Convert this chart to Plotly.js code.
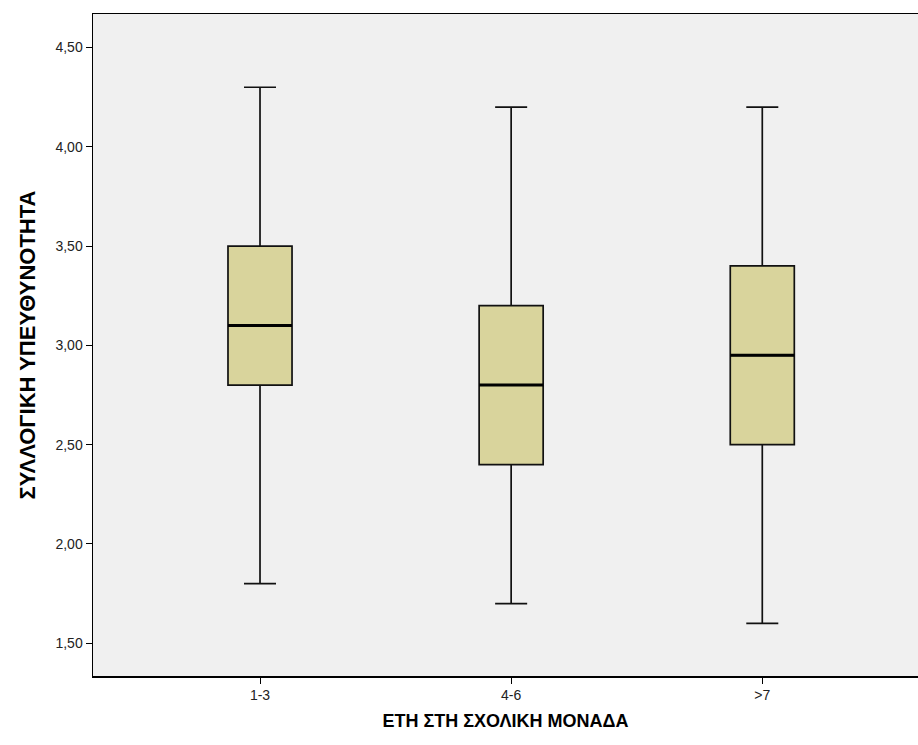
<!DOCTYPE html>
<html>
<head>
<meta charset="utf-8">
<script src="https://cdn.plot.ly/plotly-3.0.1.min.js"></script>
<style>html,body{margin:0;padding:0;background:#fff;}#chart{width:918px;height:745px;}</style>
</head>
<body>
<div id="chart"></div>
<script>
const categories = ["1-3", "4-6", ">7"];
const lowerWhisker = [1.80, 1.70, 1.60];
const q1 = [2.80, 2.40, 2.50];
const medians = [3.10, 2.80, 2.95];
const q3 = [3.50, 3.20, 3.40];
const upperWhisker = [4.30, 4.20, 4.20];
const yTickVals = [1.5, 2.0, 2.5, 3.0, 3.5, 4.0, 4.5];

const boxWidth = 0.255;

const trace = {
  type: "box",
  x: categories,
  q1: q1,
  median: medians,
  q3: q3,
  lowerfence: lowerWhisker,
  upperfence: upperWhisker,
  width: boxWidth,
  whiskerwidth: 0.5,
  fillcolor: "#d9d49c",
  line: {color: "#111", width: 1.7},
  boxpoints: false,
  hoverinfo: "none",
  showlegend: false
};

const medianShapes = categories.map((c, i) => ({
  type: "line",
  xref: "x", yref: "y",
  x0: i - boxWidth / 2, x1: i + boxWidth / 2,
  y0: medians[i], y1: medians[i],
  line: {color: "#000", width: 3}
}));

const titleFont = {family: "Liberation Sans, Arial, sans-serif", color: "#000", weight: "bold"};

const layout = {
  width: 918, height: 745,
  margin: {l: 93, r: 0, t: 14, b: 69},
  paper_bgcolor: "#ffffff",
  plot_bgcolor: "#f0f0f0",
  separators: ",.",
  font: {family: "Liberation Sans, Arial, sans-serif", color: "#000"},
  showlegend: false,
  xaxis: {
    type: "category",
    range: [-0.665, 2.62],
    showgrid: false, zeroline: false,
    showline: true, linecolor: "#000", linewidth: 1.5, mirror: true,
    ticks: "outside", ticklen: 6, tickcolor: "#000", tickwidth: 1,
    tickfont: {size: 14, color: "#222"},
    title: {text: "ΕΤΗ ΣΤΗ ΣΧΟΛΙΚΗ ΜΟΝΑΔΑ", font: Object.assign({size: 18}, titleFont), standoff: 12}
  },
  yaxis: {
    range: [1.335, 4.669],
    tickvals: yTickVals,
    tickformat: ".2f",
    showgrid: false, zeroline: false,
    showline: true, linecolor: "#000", linewidth: 1.5,
    ticks: "outside", ticklen: 6, tickcolor: "#000", tickwidth: 1,
    tickfont: {size: 14, color: "#222"},
    title: {text: "ΣΥΛΛΟΓΙΚΗ ΥΠΕΥΘΥΝΟΤΗΤΑ", font: Object.assign({size: 22}, titleFont), standoff: 14}
  },
  shapes: medianShapes
};

Plotly.newPlot("chart", [trace], layout, {displayModeBar: false, staticPlot: true});
</script>
</body>
</html>
